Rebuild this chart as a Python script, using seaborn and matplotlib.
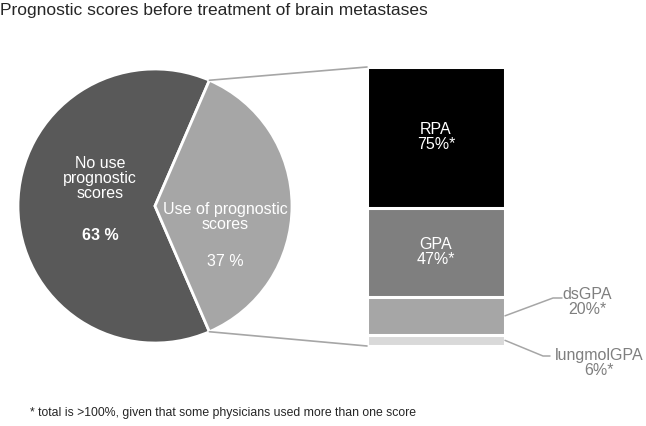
import numpy as np
import matplotlib
matplotlib.use("Agg")
import matplotlib.pyplot as plt
from matplotlib.patches import ConnectionPatch
from matplotlib.lines import Line2D
from matplotlib.transforms import IdentityTransform
import seaborn as sns

# ---- data ----
pie_labels = ["No use\nprognostic\nscores", "Use of prognostic\nscores"]
pie_values = [63, 37]
pie_colors = ["#595959", "#a6a6a6"]

score_names = ["RPA", "GPA", "dsGPA", "lungmolGPA"]
score_values = [75, 47, 20, 6]
score_colors = ["#000000", "#7f7f7f", "#a6a6a6", "#d9d9d9"]

title = "Prognostic scores before treatment of brain metastases"
footnote = "* total is >100%, given that some physicians used more than one score"

sns.set_theme(style="white")
plt.rcParams["font.family"] = ["Liberation Sans", "DejaVu Sans"]

W, H = 646, 427
fig = plt.figure(figsize=(W / 100, H / 100), dpi=100)

def px_axes(x0, y0, x1, y1):
    # pixel box (top-left origin) -> figure axes
    return fig.add_axes([x0 / W, 1 - y1 / H, (x1 - x0) / W, (y1 - y0) / H])

# ---- pie ----
cx, cy, r = 155, 207, 137
pax = px_axes(cx - r, cy - r, cx + r, cy + r)
start = 180 - pie_values[0] / 100 * 360 / 2
wedges, _ = pax.pie(pie_values, colors=pie_colors, startangle=start,
                    counterclock=True,
                    wedgeprops=dict(edgecolor="white", linewidth=2))
pax.set_xlim(-1, 1)
pax.set_ylim(-1, 1)
pax.set_aspect("equal")
pax.axis("off")

fs = 11.5
pax.text((100 - cx) / r, (cy - 179) / r, pie_labels[0], color="white",
         ha="center", va="center", fontsize=fs, linespacing=1.0)
pax.text((100 - cx) / r, (cy - 235) / r, f"{pie_values[0]} %", color="white",
         ha="center", va="center", fontsize=fs, fontweight="bold")
pax.text((225 - cx) / r, (cy - 217) / r, pie_labels[1], color="white",
         ha="center", va="center", fontsize=fs, linespacing=1.0)
pax.text((225 - cx) / r, (cy - 262) / r, f"{pie_values[1]} %", color="white",
         ha="center", va="center", fontsize=fs)

# ---- stacked bar ----
bax = px_axes(367, 68, 505, 347)
total = sum(score_values)
cum = np.cumsum(score_values[::-1])[::-1]  # top-down cumulative heights
for h, col in zip(cum, score_colors):
    sns.barplot(x=[0], y=[h], color=col, ax=bax, width=1.0,
                edgecolor="white", linewidth=2.2, saturation=1)
bax.set_xlim(-0.5, 0.5)
bax.set_ylim(0, total)
bax.axis("off")

bottoms = cum - np.array(score_values)
for name, v, b in zip(score_names[:2], score_values[:2], bottoms[:2]):
    bax.text(0, b + v / 2 + 1, f"{name}\n{v}%*", color="white",
             ha="center", va="center", fontsize=fs, linespacing=1.0)

# ---- connectors pie -> bar ----
a_top = np.deg2rad(start + pie_values[0] / 100 * 360 + pie_values[1] / 100 * 360)
a_bot = np.deg2rad(start + pie_values[0] / 100 * 360)
for ang, yb in [(a_top, total), (a_bot, 0)]:
    con = ConnectionPatch(xyA=(np.cos(ang), np.sin(ang)), coordsA=pax.transData,
                          xyB=(-0.5, yb), coordsB=bax.transData,
                          color="#a6a6a6", linewidth=1.2)
    fig.add_artist(con)

# ---- leader labels for small segments ----
lead_col = "#a6a6a6"
txt_col = "#7f7f7f"
for name, v, b, (kx, ky, ex, lx, ly) in zip(
        score_names[2:], score_values[2:], bottoms[2:],
        [(553, 299, 562, 587, 302), (543, 357, 550, 599, 363)]):
    x0, y0 = bax.transData.transform((0.5, b + v / 2))
    fig.add_artist(Line2D([x0, kx, ex], [y0, H - ky, H - ky],
                          transform=IdentityTransform(), color=lead_col, lw=1.1))
    fig.text(lx / W, 1 - ly / H, f"{name}\n{v}%*", color=txt_col,
             ha="center", va="center", fontsize=fs, linespacing=1.0)

fig.text(0.0, 1 - 3 / H, title, ha="left", va="top", fontsize=12.5)
fig.text(30 / W, 1 - 413 / H, footnote, ha="left", va="center", fontsize=8.8)

fig.savefig("out.png", dpi=100)
